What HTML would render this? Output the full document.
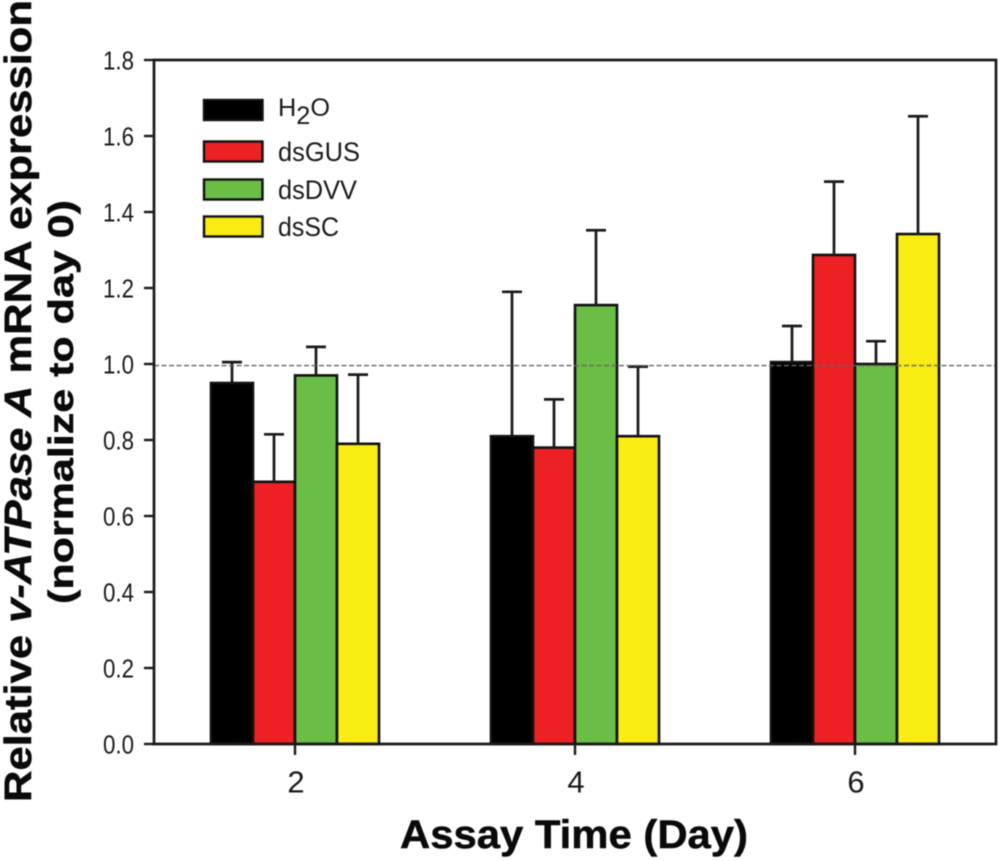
<!DOCTYPE html>
<html>
<head>
<meta charset="utf-8">
<style>
html,body{margin:0;padding:0;background:#fff;}
svg{display:block;filter:blur(0.45px);}
text{font-family:"Liberation Sans",sans-serif;fill:#1a1a1a;}
.title{fill:#0a0a0a;stroke:#0a0a0a;stroke-width:0.5px;}
</style>
</head>
<body>
<svg id="chart" width="1000" height="861" viewBox="0 0 1000 861" xmlns="http://www.w3.org/2000/svg">
<rect x="0" y="0" width="1000" height="861" fill="#fff"/>
<g id="bars"></g>
<g id="errs"></g>
<line id="ref" stroke="#666" stroke-width="1.4" stroke-dasharray="5 2.5"/>
<g id="axes"></g>
<g id="legend"></g>
<text class="title" transform="translate(31,802) rotate(-90)" font-size="38" font-weight="bold" textLength="802" lengthAdjust="spacingAndGlyphs">Relative <tspan font-style="italic">v-ATPase A</tspan> mRNA expression</text>
<text class="title" transform="translate(73,604) rotate(-90)" font-size="35" font-weight="bold" textLength="404" lengthAdjust="spacingAndGlyphs">(normalize to day 0)</text>
<text class="title" x="400" y="848" font-size="40" font-weight="bold" textLength="348" lengthAdjust="spacingAndGlyphs">Assay Time (Day)</text>
</svg>
<script>
const categories = [2, 4, 6];
const seriesNames = ["H2O", "dsGUS", "dsDVV", "dsSC"];
const seriesColors = ["#000000", "#ed2024", "#6abd45", "#f8ec13"];
const h2oValues = [0.95, 0.81, 1.005];
const dsgusValues = [0.69, 0.78, 1.287];
const dsdvvValues = [0.97, 1.155, 1.0];
const dsscValues = [0.79, 0.81, 1.342];
const h2oErrTop = [1.005, 1.19, 1.10];
const dsgusErrTop = [0.815, 0.907, 1.48];
const dsdvvErrTop = [1.045, 1.352, 1.06];
const dsscErrTop = [0.972, 0.993, 1.652];
const yTicks = ["0.0", "0.2", "0.4", "0.6", "0.8", "1.0", "1.2", "1.4", "1.6", "1.8"];
const referenceValue = 0.996;

const values = [h2oValues, dsgusValues, dsdvvValues, dsscValues];
const errTops = [h2oErrTop, dsgusErrTop, dsdvvErrTop, dsscErrTop];
const NS = "http://www.w3.org/2000/svg";
const plotL = 154, plotR = 996, plotT = 60, plotB = 744;
const yMax = 1.8;
const barW = 42;
function yScale(v) { return plotB - (v / yMax) * (plotB - plotT); }
function xScale(c) { return 295 + (c - 2) * 140; }
function mk(parent, tag, attrs) {
  const el = document.createElementNS(NS, tag);
  for (const k in attrs) el.setAttribute(k, attrs[k]);
  parent.appendChild(el);
  return el;
}
const barsG = document.getElementById('bars');
const errsG = document.getElementById('errs');
const axesG = document.getElementById('axes');
const legendG = document.getElementById('legend');

categories.forEach(function (c, ci) {
  seriesNames.forEach(function (name, si) {
    const x = xScale(c) + (si - 2) * barW;
    const top = yScale(values[si][ci]);
    const errY = yScale(errTops[si][ci]);
    const cx = x + barW / 2;
    const stem = mk(errsG, 'line', { x1: cx, x2: cx, y1: top, y2: errY, stroke: '#1a1a1a', 'stroke-width': 2.7 });
    
    
    const cap = mk(errsG, 'line', { x1: cx - 10, x2: cx + 10, y1: errY, y2: errY, stroke: '#1a1a1a', 'stroke-width': 2.7 });
    
    
    const bar = mk(barsG, 'rect', { x: x, y: top, width: barW, height: plotB - top, fill: seriesColors[si], stroke: '#111', 'stroke-width': 2.6 });
    
    
  });
});

const ref = document.getElementById('ref');
ref.setAttribute('x1', plotL);
ref.setAttribute('x2', plotR);
ref.setAttribute('y1', yScale(referenceValue));
ref.setAttribute('y2', yScale(referenceValue));

const frame = mk(axesG, 'path', {
  d: 'M' + plotL + ' ' + plotT + 'L' + plotR + ' ' + plotT + 'L' + plotR + ' ' + plotB + 'L' + plotL + ' ' + plotB + 'Z',
  fill: 'none', stroke: '#1a1a1a', 'stroke-width': 2.7
});



yTicks.forEach(function (t) {
  const y = yScale(parseFloat(t));
  const tick = mk(axesG, 'line', { x1: plotL - 10, x2: plotL, y1: y, y2: y, stroke: '#1a1a1a', 'stroke-width': 2.4 });
  
  
  const label = mk(axesG, 'text', { x: 103, y: y + 9.5, 'font-size': 26, textLength: 31, lengthAdjust: 'spacingAndGlyphs' });
  
  
  label.textContent = t;
});

categories.forEach(function (c) {
  const x = xScale(c);
  const tick = mk(axesG, 'line', { x1: x, x2: x, y1: plotB, y2: plotB + 11, stroke: '#1a1a1a', 'stroke-width': 2.4 });
  
  
  const label = mk(axesG, 'text', { x: x + 1, y: 792.5, 'font-size': 31, 'text-anchor': 'middle' });
  
  
  label.textContent = String(c);
});

const legendRows = [110, 151.5, 189.5, 226.5];
const legendTextWidths = [52, 82, 79, 61];
seriesNames.forEach(function (name, si) {
  const cy = legendRows[si];
  const sw = mk(legendG, 'rect', { x: 204, y: cy - 10, width: 58.5, height: 20, fill: seriesColors[si], stroke: '#111', 'stroke-width': 2.4 });
  
  
  const label = mk(legendG, 'text', { x: 278, y: cy + 9.5, 'font-size': 27, textLength: legendTextWidths[si], lengthAdjust: 'spacingAndGlyphs' });
  
  
  if (name === 'H2O') {
    label.setAttribute('y', cy + 6);
    label.setAttribute('font-size', 25);
    const a = mk(label, 'tspan', {}); a.textContent = 'H';
    const b = mk(label, 'tspan', { dy: 8 }); b.textContent = '2';
    const d = mk(label, 'tspan', { dy: -8 }); d.textContent = 'O';
  } else {
    label.textContent = name;
  }
});
</script>
</body>
</html>
